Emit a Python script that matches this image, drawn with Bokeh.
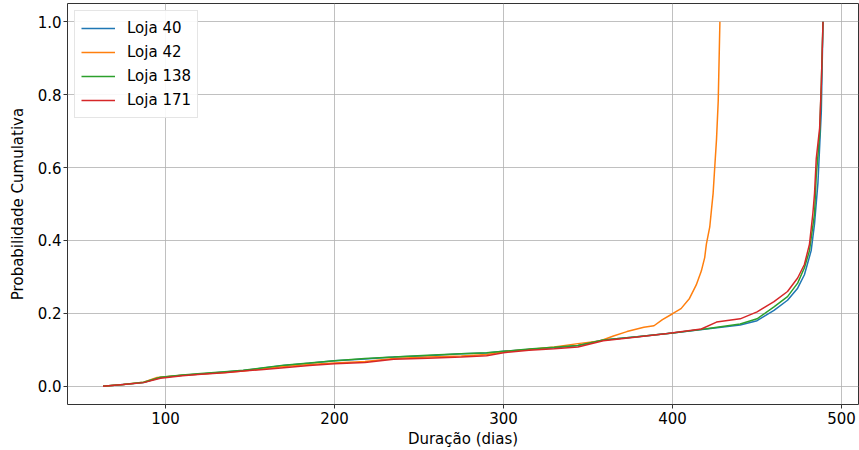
from bokeh.plotting import figure
from bokeh.models import FixedTicker, Legend, LegendItem, Range1d, NumeralTickFormatter
from bokeh.embed import file_html
from bokeh.resources import INLINE

# Durations (days) and cumulative probabilities
loja40_x = [63, 75, 87, 97, 110, 121, 135, 146, 158, 170, 185, 200, 218, 235, 255, 275, 290, 300, 315, 330, 344, 359, 379, 400, 420, 440, 450, 460, 468, 474, 478, 482, 484, 486, 488, 489]
loja40_y = [0.0, 0.005, 0.010, 0.024, 0.030, 0.034, 0.039, 0.043, 0.050, 0.057, 0.063, 0.070, 0.075, 0.080, 0.084, 0.089, 0.091, 0.096, 0.101, 0.106, 0.112, 0.127, 0.136, 0.146, 0.157, 0.168, 0.180, 0.208, 0.236, 0.269, 0.306, 0.372, 0.446, 0.558, 0.754, 1.0]

loja42_x = [63, 75, 87, 95, 110, 121, 135, 146, 158, 170, 185, 200, 218, 235, 255, 275, 290, 300, 315, 330, 344, 357, 365, 373, 383, 389, 394, 400, 405, 410, 414, 417, 419, 420, 422, 423, 424, 425, 426, 427, 428]
loja42_y = [0.0, 0.005, 0.011, 0.024, 0.030, 0.034, 0.038, 0.042, 0.048, 0.054, 0.060, 0.064, 0.068, 0.076, 0.080, 0.083, 0.087, 0.095, 0.101, 0.108, 0.117, 0.124, 0.138, 0.150, 0.162, 0.166, 0.183, 0.199, 0.213, 0.241, 0.278, 0.316, 0.353, 0.390, 0.437, 0.484, 0.530, 0.605, 0.678, 0.782, 1.0]

loja138_x = [63, 75, 87, 97, 110, 121, 135, 146, 158, 170, 185, 200, 218, 235, 255, 275, 290, 300, 315, 330, 344, 359, 379, 400, 420, 440, 450, 460, 468, 474, 478, 481, 484, 485, 487, 488, 489]
loja138_y = [0.0, 0.005, 0.011, 0.025, 0.031, 0.035, 0.040, 0.044, 0.051, 0.058, 0.064, 0.070, 0.076, 0.080, 0.085, 0.089, 0.092, 0.096, 0.102, 0.107, 0.112, 0.127, 0.136, 0.146, 0.158, 0.171, 0.185, 0.218, 0.246, 0.283, 0.325, 0.372, 0.474, 0.577, 0.689, 0.829, 1.0]

loja171_x = [63, 75, 87, 97, 110, 121, 135, 146, 158, 170, 185, 200, 218, 235, 255, 275, 290, 300, 315, 330, 344, 359, 379, 397, 417, 426, 440, 450, 460, 468, 474, 478, 481, 483, 484, 485, 487, 488, 489]
loja171_y = [0.0, 0.005, 0.010, 0.022, 0.029, 0.033, 0.037, 0.042, 0.046, 0.051, 0.057, 0.062, 0.065, 0.074, 0.077, 0.080, 0.084, 0.092, 0.099, 0.103, 0.108, 0.125, 0.135, 0.145, 0.157, 0.176, 0.185, 0.204, 0.232, 0.260, 0.297, 0.334, 0.390, 0.474, 0.530, 0.624, 0.708, 0.829, 1.0]

series = [
    ("Loja 40", loja40_x, loja40_y, "#1f77b4"),
    ("Loja 42", loja42_x, loja42_y, "#ff7f0e"),
    ("Loja 138", loja138_x, loja138_y, "#2ca02c"),
    ("Loja 171", loja171_x, loja171_y, "#d62728"),
]

x_ticks = [100, 200, 300, 400, 500]
y_ticks = [0.0, 0.2, 0.4, 0.6, 0.8, 1.0]

FONT = "DejaVu Sans"
FS = "15px"

p = figure(width=859, height=450, output_backend="svg", toolbar_location=None,
           x_range=Range1d(42, 510), y_range=Range1d(-0.05, 1.05),
           min_border_left=67, min_border_right=1, min_border_top=3, min_border_bottom=46)

items = []
for name, xs, ys, color in series:
    r = p.line(xs, ys, line_color=color, line_width=1.5)
    items.append(LegendItem(label=name, renderers=[r]))

legend = Legend(items=items, location="top_left")
legend.label_text_font = FONT
legend.label_text_font_size = FS
legend.label_text_color = "black"
legend.label_height = 22
legend.glyph_height = 22
legend.glyph_width = 34
legend.label_standoff = 12
legend.spacing = 2
legend.padding = 6
legend.margin = 7
legend.border_line_color = "#cccccc"
legend.border_line_width = 1
legend.background_fill_alpha = 0.9
p.add_layout(legend)

p.xaxis.ticker = FixedTicker(ticks=x_ticks)
p.yaxis.ticker = FixedTicker(ticks=y_ticks)
p.yaxis.formatter = NumeralTickFormatter(format="0.0")
p.xaxis.axis_label = "Duração (dias)"
p.yaxis.axis_label = "Probabilidade Cumulativa"

for ax in (p.xaxis, p.yaxis):
    ax.axis_label_text_font = FONT
    ax.axis_label_text_font_size = FS
    ax.axis_label_text_font_style = "normal"
    ax.axis_label_text_color = "black"
    ax.major_label_text_font = FONT
    ax.major_label_text_font_size = FS
    ax.major_label_text_color = "black"
    ax.axis_line_color = None
    ax.major_tick_line_color = "#333333"
    ax.major_tick_in = 0
    ax.major_tick_out = 4
    ax.minor_tick_line_color = None
    ax.major_label_standoff = 2
    ax.axis_label_standoff = 2

p.xaxis.major_label_standoff = 3
p.xaxis.axis_label_standoff = 3
p.yaxis.axis_label_standoff = 8

p.grid.grid_line_color = "#b0b0b0"
p.grid.grid_line_width = 0.8
p.outline_line_color = "#333333"
p.outline_line_width = 1
p.background_fill_color = "white"
p.border_fill_color = "white"

open("out.html", "w").write(file_html(p, INLINE))
